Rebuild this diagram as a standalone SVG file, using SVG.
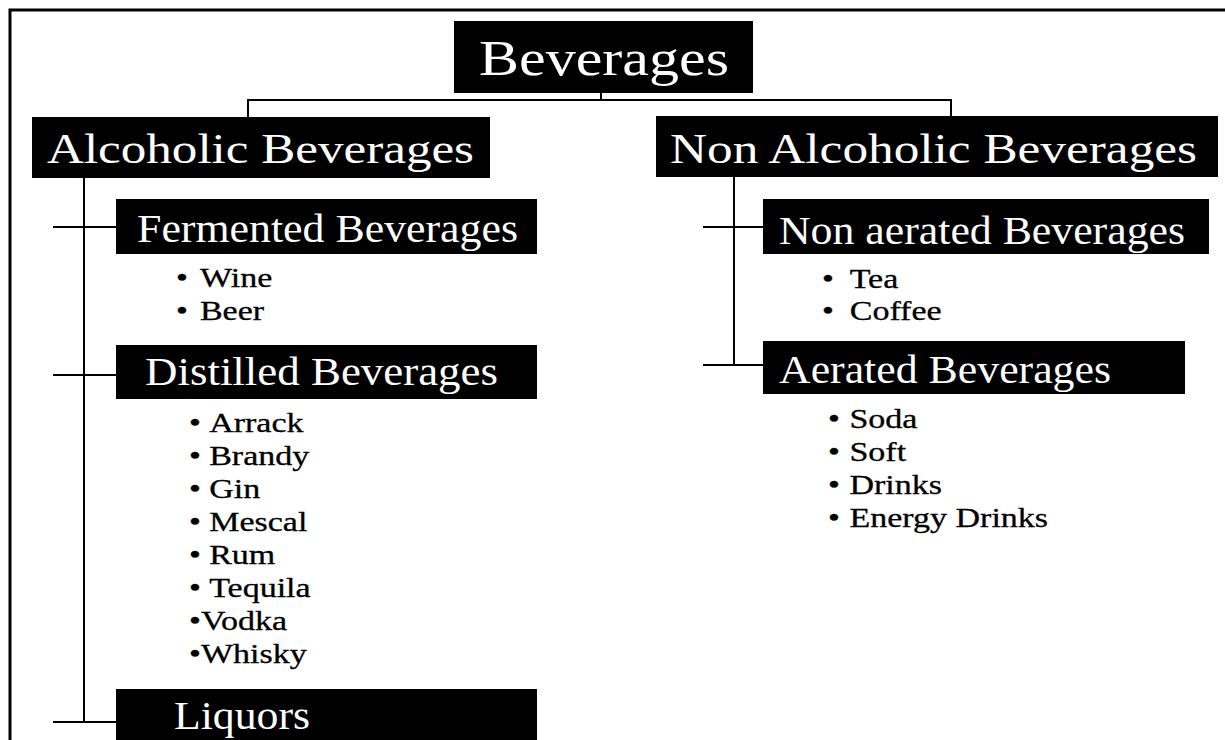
<svg xmlns="http://www.w3.org/2000/svg" width="1225" height="740" viewBox="0 0 1225 740">
<style>
.box{fill:#000}
.h1{font-family:"Liberation Serif","Times New Roman",serif;fill:#fff;font-size:50px}
.h2{font-family:"Liberation Serif","Times New Roman",serif;fill:#fff;font-size:42px}
.h3{font-family:"Liberation Serif","Times New Roman",serif;fill:#fff;font-size:40px}
.li{font-family:"Liberation Serif","Times New Roman",serif;fill:#000;font-size:27px;stroke:#000;stroke-width:0.3}
.ln{stroke:#000;stroke-width:2;fill:none}
.frame{stroke:#000;stroke-width:3;fill:none}
</style>
<rect width="1225" height="740" fill="#fff"/>
<path class="frame" d="M10,740 V10 H1225"/>
<g id="connectors">
<path class="ln" d="M601,93 V100 M248,117 V100 H951 V117"/>
<path class="ln" d="M84,178 V722 M53,227 H116 M53,375 H116 M53,722 H116"/>
<path class="ln" d="M734,177 V365 M703,227 H763 M703,365 H763"/>
</g>
<g id="beverages">
<rect class="box" x="454" y="21" width="299" height="72"/>
<text class="h1" x="479" y="75" textLength="250" lengthAdjust="spacingAndGlyphs">Beverages</text>
</g>
<g id="alcoholic">
<rect class="box" x="32" y="117" width="458" height="61"/>
<text class="h2" x="47" y="163" textLength="427" lengthAdjust="spacingAndGlyphs">Alcoholic Beverages</text>
</g>
<g id="non-alcoholic">
<rect class="box" x="656" y="116" width="562" height="61"/>
<text class="h2" x="670" y="163" textLength="527" lengthAdjust="spacingAndGlyphs">Non Alcoholic Beverages</text>
</g>
<g id="fermented">
<rect class="box" x="116" y="199" width="421" height="55"/>
<text class="h3" x="137" y="242" textLength="381" lengthAdjust="spacingAndGlyphs">Fermented Beverages</text>
<text class="li" transform="translate(176,287) scale(1.26,1)"><tspan x="0">•</tspan><tspan x="19">Wine</tspan></text>
<text class="li" transform="translate(176,320) scale(1.26,1)"><tspan x="0">•</tspan><tspan x="19">Beer</tspan></text>
</g>
<g id="distilled">
<rect class="box" x="116" y="345" width="421" height="54"/>
<text class="h3" x="145" y="385" textLength="353" lengthAdjust="spacingAndGlyphs">Distilled Beverages</text>
<text class="li" transform="translate(189,432) scale(1.26,1)"><tspan x="0">•</tspan><tspan x="16">Arrack</tspan></text>
<text class="li" transform="translate(189,465) scale(1.26,1)"><tspan x="0">•</tspan><tspan x="16">Brandy</tspan></text>
<text class="li" transform="translate(189,498) scale(1.26,1)"><tspan x="0">•</tspan><tspan x="16">Gin</tspan></text>
<text class="li" transform="translate(189,531) scale(1.26,1)"><tspan x="0">•</tspan><tspan x="16">Mescal</tspan></text>
<text class="li" transform="translate(189,564) scale(1.26,1)"><tspan x="0">•</tspan><tspan x="16">Rum</tspan></text>
<text class="li" transform="translate(189,597) scale(1.26,1)"><tspan x="0">•</tspan><tspan x="16">Tequila</tspan></text>
<text class="li" transform="translate(189,630) scale(1.26,1)">•Vodka</text>
<text class="li" transform="translate(189,663) scale(1.26,1)">•Whisky</text>
</g>
<g id="liquors">
<rect class="box" x="116" y="689" width="421" height="56"/>
<text class="h3" x="174" y="729" textLength="136" lengthAdjust="spacingAndGlyphs">Liquors</text>
</g>
<g id="non-aerated">
<rect class="box" x="763" y="199" width="446" height="55"/>
<text class="h3" x="779" y="244" textLength="406" lengthAdjust="spacingAndGlyphs">Non aerated Beverages</text>
<text class="li" transform="translate(822,288) scale(1.26,1)"><tspan x="0">•</tspan><tspan x="22">Tea</tspan></text>
<text class="li" transform="translate(822,320) scale(1.26,1)"><tspan x="0">•</tspan><tspan x="22">Coffee</tspan></text>
</g>
<g id="aerated">
<rect class="box" x="763" y="341" width="422" height="53"/>
<text class="h3" x="779" y="383" textLength="332" lengthAdjust="spacingAndGlyphs">Aerated Beverages</text>
<text class="li" transform="translate(828,428) scale(1.26,1)"><tspan x="0">•</tspan><tspan x="17">Soda</tspan></text>
<text class="li" transform="translate(828,461) scale(1.26,1)"><tspan x="0">•</tspan><tspan x="17">Soft</tspan></text>
<text class="li" transform="translate(828,494) scale(1.26,1)"><tspan x="0">•</tspan><tspan x="17">Drinks</tspan></text>
<text class="li" transform="translate(828,527) scale(1.26,1)"><tspan x="0">•</tspan><tspan x="17">Energy Drinks</tspan></text>
</g>
</svg>
